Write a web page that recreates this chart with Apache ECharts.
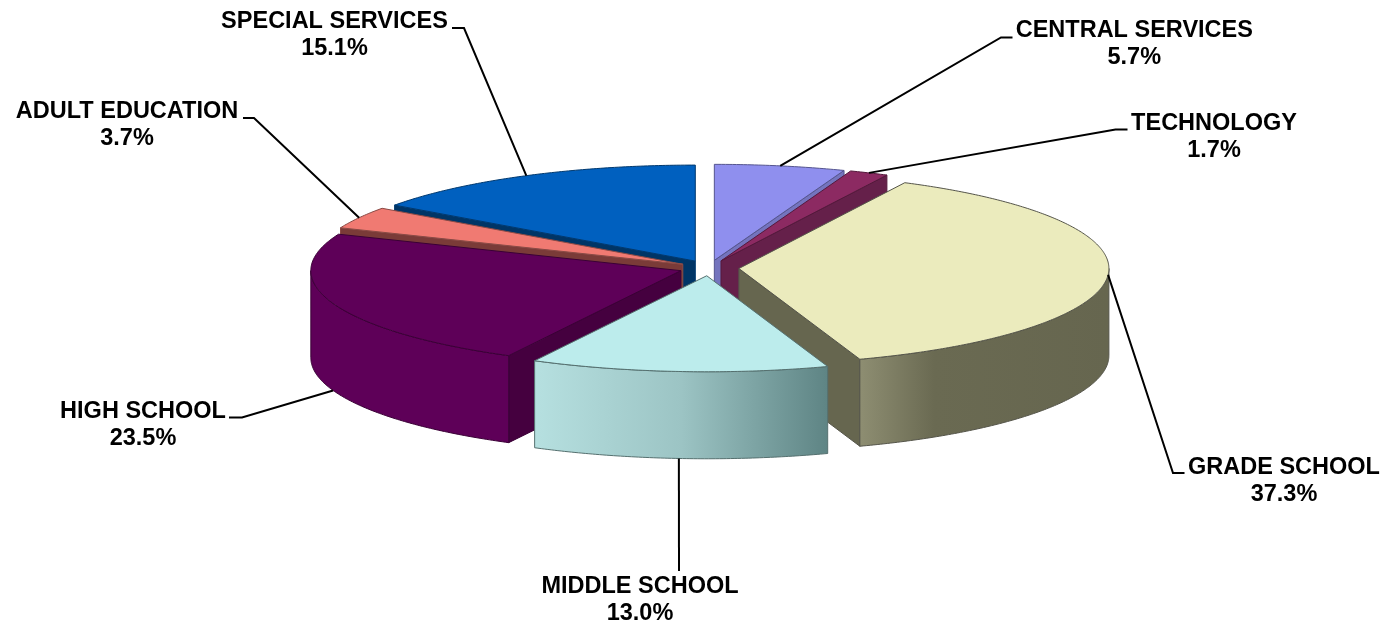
<!DOCTYPE html>
<html>
<head>
<meta charset="utf-8">
<title>Budget by program</title>
<style>html,body{margin:0;padding:0;background:#fff}#chart{width:1384px;height:622px}</style>
<script src="https://cdn.jsdelivr.net/npm/echarts@6/dist/echarts.min.js"></script>
</head>
<body>
<div id="chart"></div>
<script>
// Clockwise from twelve o'clock.
const categories = ['CENTRAL SERVICES', 'TECHNOLOGY', 'GRADE SCHOOL', 'MIDDLE SCHOOL', 'HIGH SCHOOL', 'ADULT EDUCATION', 'SPECIAL SERVICES'];
const shares = [5.7, 1.7, 37.3, 13.0, 23.5, 3.7, 15.1];

// Top face, rim line and side colour per slice.
const topColors = ['#8F8FEE', '#8C2A62', '#EBEBBD', '#BCECEC', '#5E0058', '#F07A72', '#0060BF'];
const edgeColors = ['#55558f', '#55193c', '#55554a', '#55706f', '#3a0036', '#8a4a45', '#00396f'];
const sideColors = ['#7474BE', '#65204A', '#66664F', '#5E8484', '#45003F', '#7A3B38', '#003566'];
const wallStops = [
  null, null,
  [[0, '#8E8E72'], [0.3, '#6A6A52'], [1, '#66664F']],
  [[0, '#B6E0E0'], [0.5, '#9CC4C4'], [1, '#5E8484']],
  [[0, '#5E0058'], [1, '#5E0058']],
  null, null
];

// Back-to-front painting order of the slices.
const paintOrder = [6, 0, 1, 5, 4, 2, 3];

// Pie projection.
const center = [709, 268];
const radiusX = 370;
const radiusY = 96;
const depth = 87;
const explode = 0.081;

// Where each leader bends and where its two-line label sits.
const labelElbows = [[1001, 37.5], [1115.5, 129.5], [1173, 473], [679, 571], [242, 417.5], [254, 118], [464, 28]];
const labelEnds = [[1012.5, 37.5], [1127.5, 129.5], [1184.5, 473], [679, 571], [229, 417.5], [243, 118], [452, 28]];
const labelCenters = [[1134.3, 30.8], [1214, 124], [1284, 468], [640, 586.3], [143, 411.5], [127, 111.5], [334.5, 22]];
const labelGap = 27;

const total = shares.reduce((a, b) => a + b, 0);
const rad = p => p / total * Math.PI * 2;

function renderSlice(params, api) {
  const i = api.value(0);
  const start = rad(shares.slice(0, i).reduce((a, b) => a + b, 0));
  const end = start + rad(shares[i]);
  const mid = (start + end) / 2;
  const cx = center[0] + explode * radiusX * Math.sin(mid);
  const cy = center[1] - explode * radiusY * Math.cos(mid);
  const rim = t => [cx + radiusX * Math.sin(t), cy - radiusY * Math.cos(t)];
  const drop = p => [p[0], p[1] + depth];
  const arc = (a, b) => {
    const n = Math.max(2, Math.ceil((b - a) / 0.01));
    const pts = [];
    for (let k = 0; k <= n; k++) pts.push(rim(a + (b - a) * k / n));
    return pts;
  };
  const children = [];
  const edge = { stroke: edgeColors[i], lineWidth: 1, lineJoin: 'round' };

  // Radial faces turned towards the viewer.
  const face = t => ({
    type: 'polygon',
    shape: { points: [[cx, cy], rim(t), drop(rim(t)), [cx, cy + depth]] },
    style: Object.assign({ fill: sideColors[i] }, edge)
  });
  if (Math.sin(start) < -1e-6) children.push(face(start));
  if (Math.sin(end) > 1e-6) children.push(face(end));

  // Outer wall on the front half of the rim.
  const wallA = Math.max(start, Math.PI / 2);
  const wallB = Math.min(end, Math.PI * 1.5);
  if (wallB > wallA) {
    const upper = arc(wallA, wallB);
    const lower = upper.map(drop).reverse();
    const stops = (wallStops[i] || [[0, sideColors[i]], [1, sideColors[i]]])
      .map(s => ({ offset: s[0], color: s[1] }));
    children.push({
      type: 'polygon',
      shape: { points: upper.concat(lower) },
      style: Object.assign({ fill: new echarts.graphic.LinearGradient(0, 0, 1, 0, stops) }, edge)
    });
  }

  // Top face.
  children.push({
    type: 'polygon',
    shape: { points: [[cx, cy]].concat(arc(start, end)) },
    style: Object.assign({ fill: topColors[i] }, edge)
  });

  // Leader from the middle of the slice's rim out to the label.
  let anchor = rim(mid);
  if (Math.cos(mid) < -0.3) anchor = drop(anchor);
  children.push({
    type: 'polyline',
    shape: { points: [anchor, labelElbows[i], labelEnds[i]] },
    style: { stroke: '#000', lineWidth: 2, fill: null }
  });

  // Name and share.
  const font = 'bold 23.5px "Liberation Sans", Arial, sans-serif';
  const [lx, ly] = labelCenters[i];
  children.push({
    type: 'text',
    style: { text: categories[i], x: lx, y: ly, font, fill: '#000', textAlign: 'center', textVerticalAlign: 'middle' }
  });
  children.push({
    type: 'text',
    style: { text: shares[i].toFixed(1) + '%', x: lx, y: ly + labelGap, font, fill: '#000', textAlign: 'center', textVerticalAlign: 'middle' }
  });

  return { type: 'group', children };
}

const chart = echarts.init(document.getElementById('chart'), null, { renderer: 'canvas' });
chart.setOption({
  animation: false,
  backgroundColor: '#fff',
  series: [{
    type: 'custom',
    coordinateSystem: 'none',
    renderItem: renderSlice,
    data: paintOrder.map(i => [i, shares[i]])
  }]
});
</script>
</body>
</html>
